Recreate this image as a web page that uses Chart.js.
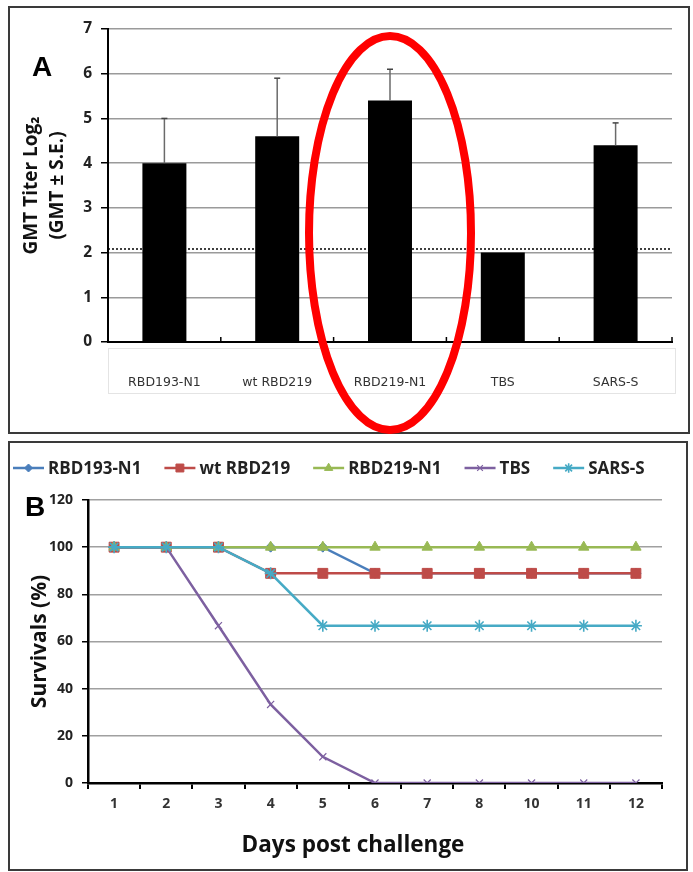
<!DOCTYPE html>
<html>
<head>
<meta charset="utf-8">
<script src="https://cdn.jsdelivr.net/npm/chart.js@4.4.1/dist/chart.umd.min.js"></script>
<style>
body { margin: 0; background: #fff; width: 693px; height: 872px; position: relative; overflow: hidden; }
.frame { position: absolute; border: 2px solid #3a3a3a; box-sizing: border-box; }
#frameA { left: 8px; top: 6px; width: 682px; height: 428px; }
#frameB { left: 8px; top: 441px; width: 680px; height: 430px; }
canvas { position: absolute; left: 0; }
#chartA { top: 0; }
#chartB { top: 440px; }
</style>
</head>
<body>
<div class="frame" id="frameA"></div>
<div class="frame" id="frameB"></div>
<canvas id="chartA" width="693" height="440"></canvas>
<canvas id="chartB" width="693" height="432"></canvas>
<script>
// Panel A - GMT titers
const groups = ['RBD193-N1', 'wt RBD219', 'RBD219-N1', 'TBS', 'SARS-S'];
const gmtLog2 = [4.0, 4.6, 5.4, 2.0, 4.4];
const gmtSE = [1.0, 1.3, 0.7, 0, 0.5];
const cutoffLog2 = 2.08;

// Panel B - survival
const days = ['1', '2', '3', '4', '5', '6', '7', '8', '10', '11', '12'];
const survRBD193N1 = [100, 100, 100, 100, 100, 88.9, 88.9, 88.9, 88.9, 88.9, 88.9];
const survWtRBD219 = [100, 100, 100, 88.9, 88.9, 88.9, 88.9, 88.9, 88.9, 88.9, 88.9];
const survRBD219N1 = [100, 100, 100, 100, 100, 100, 100, 100, 100, 100, 100];
const survTBS = [100, 100, 66.7, 33.3, 11.1, 0, 0, 0, 0, 0, 0];
const survSARS = [100, 100, 100, 88.9, 66.7, 66.7, 66.7, 66.7, 66.7, 66.7, 66.7];
const daysTitle = 'Days post challenge';

const drawPoint = Chart.helpers && Chart.helpers.drawPoint;
const boldFont = '"Open Sans"';

const extrasA = {
    id: 'extrasA',
    beforeDatasetsDraw(chart) {
        const ctx = chart.ctx;
        const area = chart.chartArea;
        const y = chart.scales.y.getPixelForValue(cutoffLog2);
        ctx.save();
        // faint box around category labels
        ctx.strokeStyle = '#e4e4e4';
        ctx.lineWidth = 1;
        ctx.strokeRect(area.left + 0.5, area.bottom + 6.5, area.right - area.left + 3, 45);
        // dotted cutoff
        ctx.strokeStyle = '#000';
        ctx.lineWidth = 1.5;
        ctx.setLineDash([2, 2]);
        ctx.beginPath();
        ctx.moveTo(area.left, y);
        ctx.lineTo(area.right, y);
        ctx.stroke();
        ctx.setLineDash([]);
        // small inside ticks at category borders
        const step = (area.right - area.left) / groups.length;
        ctx.lineWidth = 1.5;
        for (let i = 1; i <= groups.length; i++) {
            const x = area.left + step * i;
            ctx.beginPath();
            ctx.moveTo(x, area.bottom);
            ctx.lineTo(x, area.bottom - 5);
            ctx.stroke();
        }
        ctx.restore();
    },
    afterDatasetsDraw(chart) {
        const ctx = chart.ctx;
        const meta = chart.getDatasetMeta(0);
        const yScale = chart.scales.y;
        ctx.save();
        meta.data.forEach((bar, i) => {
            if (!gmtSE[i]) return;
            const yTop = yScale.getPixelForValue(gmtLog2[i] + gmtSE[i]);
            ctx.strokeStyle = '#6a6a6a';
            ctx.lineWidth = 1.5;
            ctx.beginPath();
            ctx.moveTo(bar.x, bar.y);
            ctx.lineTo(bar.x, yTop);
            ctx.stroke();
            ctx.strokeStyle = '#444';
            ctx.beginPath();
            ctx.moveTo(bar.x - 3, yTop);
            ctx.lineTo(bar.x + 3, yTop);
            ctx.stroke();
        });
        ctx.restore();
    },
    afterDraw(chart) {
        const ctx = chart.ctx;
        ctx.save();
        ctx.fillStyle = '#000';
        ctx.font = 'bold 28px "Liberation Sans"';
        ctx.textAlign = 'center';
        ctx.textBaseline = 'middle';
        ctx.fillText('A', 42, 68);
        // red highlight ellipse around RBD219-N1
        const xs = chart.scales.x;
        ctx.strokeStyle = '#ff0000';
        ctx.lineWidth = 8;
        ctx.beginPath();
        ctx.ellipse(xs.getPixelForValue(2), 233, 81, 197, 0, 0, Math.PI * 2);
        ctx.stroke();
        ctx.restore();
    }
};

new Chart(document.getElementById('chartA'), {
    type: 'bar',
    data: {
        labels: groups,
        datasets: [{
            data: gmtLog2,
            backgroundColor: '#000',
            borderWidth: 0,
            categoryPercentage: 1,
            barPercentage: 0.39
        }]
    },
    options: {
        responsive: false,
        animation: false,
        layout: { padding: { top: 29, right: 21, bottom: 0, left: 0 } },
        plugins: { legend: { display: false }, tooltip: { enabled: false } },
        scales: {
            x: {
                grid: { display: false },
                border: { color: '#000', width: 2 },
                ticks: { padding: 25, color: '#333', font: { family: 'DejaVu Sans', size: 12.5 } },
                afterFit: (s) => { s.height = 98; }
            },
            y: {
                min: 0,
                max: 7,
                ticks: { stepSize: 1, padding: 9, color: '#222', font: { family: boldFont, weight: 'bold', size: 15.5 } },
                grid: { color: '#9a9a9a', lineWidth: 1.5, tickLength: 7, tickColor: '#000' },
                border: { color: '#000', width: 2 },
                title: {
                    display: true,
                    text: ['GMT Titer Log\u2082', '(GMT \u00b1 S.E.)'],
                    color: '#111',
                    padding: { top: 19.5 },
                    font: { family: boldFont, weight: 'bold', size: 19, lineHeight: 1.32 }
                },
                afterFit: (s) => { s.width = 108; }
            }
        }
    },
    plugins: [extrasA]
});

const extrasB = {
    id: 'extrasB',
    afterDraw(chart) {
        const ctx = chart.ctx;
        ctx.save();
        ctx.fillStyle = '#000';
        ctx.font = 'bold 28px "Liberation Sans"';
        ctx.textAlign = 'center';
        ctx.textBaseline = 'middle';
        ctx.fillText('B', 35, 68);

        // x axis title (sits left of the plot centre in the original)
        ctx.fillStyle = '#111';
        ctx.font = 'bold 22.5px ' + boldFont;
        ctx.fillText(daysTitle, 353, 406);

        // legend row
        let x = 13;
        const y = 28;
        ctx.font = 'bold 17px ' + boldFont;
        ctx.textAlign = 'left';
        chart.data.datasets.forEach((ds) => {
            ctx.strokeStyle = ds.borderColor;
            ctx.fillStyle = ds.backgroundColor;
            ctx.lineWidth = 2.5;
            ctx.beginPath();
            ctx.moveTo(x, y);
            ctx.lineTo(x + 31, y);
            ctx.stroke();
            if (drawPoint) {
                ctx.lineWidth = ds.pointBorderWidth || 1;
                drawPoint(ctx, { pointStyle: ds.pointStyle, radius: ds.pointRadius * 0.8, rotation: 0, borderWidth: ds.pointBorderWidth || 1 }, x + 15.5, y);
            }
            ctx.fillStyle = '#222';
            ctx.fillText(ds.label, x + 35, y + 1);
            x += 35 + ctx.measureText(ds.label).width + 23;
        });
        ctx.restore();
    }
};

function series(label, data, color, style, radius, order, extra) {
    return Object.assign({
        label: label,
        data: data,
        borderColor: color,
        backgroundColor: color,
        borderWidth: 2.5,
        pointStyle: style,
        pointRadius: radius,
        pointBorderWidth: 1,
        pointBackgroundColor: color,
        pointBorderColor: color,
        tension: 0,
        order: order
    }, extra || {});
}

new Chart(document.getElementById('chartB'), {
    type: 'line',
    data: {
        labels: days,
        datasets: [
            series('RBD193-N1', survRBD193N1, '#4A7EBB', 'rectRot', 5, 5),
            series('wt RBD219', survWtRBD219, '#BE4B48', 'rect', 7, 4),
            series('RBD219-N1', survRBD219N1, '#98B954', 'triangle', 6, 3),
            series('TBS', survTBS, '#7D60A0', 'crossRot', 5, 2, { pointBorderWidth: 1.2 }),
            series('SARS-S', survSARS, '#46AAC5', 'star', 6, 1, { pointBorderWidth: 1.6 })
        ]
    },
    options: {
        responsive: false,
        animation: false,
        layout: { padding: { top: 60, right: 31, bottom: 0, left: 0 } },
        plugins: { legend: { display: false }, tooltip: { enabled: false } },
        scales: {
            x: {
                offset: true,
                grid: { offset: true, drawOnChartArea: false, tickLength: 6, color: '#000', lineWidth: 2 },
                border: { color: '#000', width: 2.5 },
                ticks: { padding: 7, color: '#333', font: { family: boldFont, weight: 'bold', size: 14 } },
                afterFit: (s) => { s.height = 89; }
            },
            y: {
                min: 0,
                max: 120,
                ticks: { stepSize: 20, padding: 9, color: '#222', font: { family: boldFont, weight: 'bold', size: 14 } },
                grid: { color: '#a0a0a0', lineWidth: 1.5, tickLength: 6, tickColor: '#000' },
                border: { color: '#000', width: 2.5 },
                title: {
                    display: true,
                    text: 'Survivals (%)',
                    color: '#111',
                    padding: { top: 27 },
                    font: { family: boldFont, weight: 'bold', size: 21 }
                },
                afterFit: (s) => { s.width = 88; }
            }
        }
    },
    plugins: [extrasB]
});
</script>
</body>
</html>
